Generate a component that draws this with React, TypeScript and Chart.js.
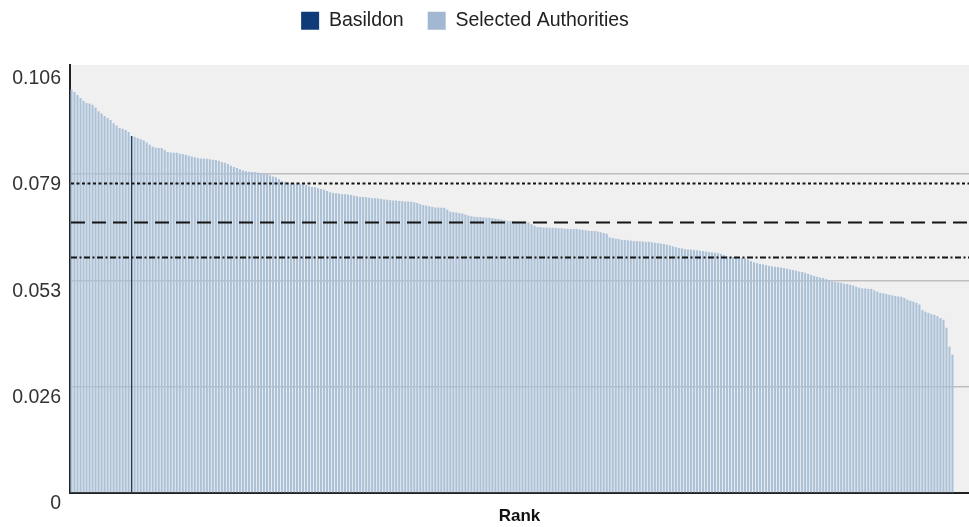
import { useEffect, useRef } from 'react';
import { Chart, registerables } from 'chart.js';

Chart.register(...registerables);

// ---------- data ----------
const legendLabels = ['Basildon', 'Selected Authorities'];

// values of all selected authorities, sorted by rank (1 = highest)
const selectedValues = [
  0.1005, 0.1000, 0.0992, 0.0985, 0.0978, 0.0972, 0.0971, 0.0968, 0.0961, 0.0952,
  0.0946, 0.0940, 0.0935, 0.0930, 0.0922, 0.0916, 0.0910, 0.0908, 0.0905, 0.0900,
  0.0890, 0.0888, 0.0885, 0.0882, 0.0879, 0.0874, 0.0868, 0.0863, 0.0861, 0.0860,
  0.0860, 0.0855, 0.0850, 0.0849, 0.0848, 0.0848, 0.0846, 0.0845, 0.0843, 0.0841,
  0.0839, 0.0837, 0.0835, 0.0834, 0.0834, 0.0833, 0.0832, 0.0831, 0.0830, 0.0828,
  0.0825, 0.0823, 0.0820, 0.0816, 0.0813, 0.0810, 0.0807, 0.0804, 0.0802, 0.0801,
  0.0800, 0.0800, 0.0799, 0.0798, 0.0798, 0.0795, 0.0792, 0.0789, 0.0787, 0.0782,
  0.0778, 0.0776, 0.0775, 0.0773, 0.0772, 0.0771, 0.0770, 0.0770, 0.0768, 0.0765,
  0.0763, 0.0762, 0.0760, 0.0758, 0.0756, 0.0753, 0.0750, 0.0748, 0.0747, 0.0746,
  0.0745, 0.0745, 0.0744, 0.0743, 0.0741, 0.0740, 0.0738, 0.0738, 0.0737, 0.0736,
  0.0735, 0.0735, 0.0734, 0.0733, 0.0732, 0.0731, 0.0730, 0.0729, 0.0729, 0.0728,
  0.0728, 0.0727, 0.0727, 0.0726, 0.0725, 0.0723, 0.0720, 0.0718, 0.0717, 0.0715,
  0.0713, 0.0712, 0.0712, 0.0711, 0.0711, 0.0706, 0.0701, 0.0700, 0.0699, 0.0698,
  0.0697, 0.0694, 0.0692, 0.0690, 0.0689, 0.0688, 0.0688, 0.0687, 0.0686, 0.0686,
  0.0685, 0.0684, 0.0683, 0.0681, 0.0680, 0.0679, 0.0678, 0.0678, 0.0677, 0.0677,
  0.0676, 0.0676, 0.0675, 0.0670, 0.0666, 0.0663, 0.0663, 0.0662, 0.0662, 0.0661,
  0.0661, 0.0661, 0.0660, 0.0660, 0.0659, 0.0659, 0.0658, 0.0658, 0.0658, 0.0657,
  0.0656, 0.0655, 0.0654, 0.0653, 0.0653, 0.0652, 0.0650, 0.0648, 0.0646, 0.0637,
  0.0636, 0.0634, 0.0633, 0.0631, 0.0631, 0.0630, 0.0629, 0.0628, 0.0628, 0.0627,
  0.0627, 0.0626, 0.0626, 0.0625, 0.0624, 0.0623, 0.0622, 0.0621, 0.0619, 0.0617,
  0.0615, 0.0613, 0.0611, 0.0610, 0.0608, 0.0607, 0.0607, 0.0606, 0.0605, 0.0604,
  0.0603, 0.0602, 0.0601, 0.0600, 0.0599, 0.0598, 0.0596, 0.0593, 0.0590, 0.0588,
  0.0588, 0.0587, 0.0587, 0.0586, 0.0585, 0.0582, 0.0578, 0.0575, 0.0573, 0.0571,
  0.0570, 0.0568, 0.0566, 0.0565, 0.0564, 0.0563, 0.0562, 0.0561, 0.0559, 0.0557,
  0.0556, 0.0554, 0.0552, 0.0551, 0.0549, 0.0546, 0.0543, 0.0541, 0.0539, 0.0537,
  0.0536, 0.0533, 0.0530, 0.0527, 0.0526, 0.0525, 0.0524, 0.0522, 0.0521, 0.0519,
  0.0517, 0.0514, 0.0512, 0.0510, 0.0510, 0.0509, 0.0509, 0.0505, 0.0502, 0.0499,
  0.0498, 0.0496, 0.0494, 0.0493, 0.0491, 0.0490, 0.0489, 0.0486, 0.0482, 0.0479,
  0.0477, 0.0474, 0.0470, 0.0456, 0.0452, 0.0449, 0.0446, 0.0444, 0.0441, 0.0436,
  0.0432, 0.0412, 0.0365, 0.0345,
];

const basildonRank = 21;
const basildonValue = 0.089;

const yTickValues = [0, 0.0265, 0.053, 0.0795, 0.106];
const yTickLabels = ['0', '0.026', '0.053', '0.079', '0.106'];

// upper quartile, median, lower quartile
const refLineValues = [0.0772, 0.0676, 0.0588];

const xAxisTitle = 'Rank';

// ---------- styles ----------
const FONT = "'Liberation Sans', Arial, sans-serif";
const refLineDashes = [
  [3, 2.5],
  [14, 7],
  [6, 2.5, 2, 2.5],
];
const legendSwatchColors = ['#0f3c78', '#a2b7d1'];
const barColor = '#abc1d8';
const basildonColor = '#1c3452';

export default function App() {
  const canvasRef = useRef<HTMLCanvasElement | null>(null);

  useEffect(() => {
    const canvas = canvasRef.current;
    if (!canvas) return;

    const plotBackground = {
      id: 'plotBackground',
      beforeDraw(chart: any) {
        const { ctx, chartArea } = chart;
        ctx.save();
        ctx.fillStyle = '#f0f0f0';
        ctx.fillRect(chartArea.left, chartArea.top, chartArea.right - chartArea.left, chartArea.bottom - chartArea.top);
        ctx.restore();
      },
    };

    const refLines = {
      id: 'refLines',
      afterDraw(chart: any) {
        const { ctx, chartArea, scales } = chart;
        ctx.save();
        refLineValues.forEach((v, i) => {
          const y = Math.round(scales.y.getPixelForValue(v)) + 0.5;
          ctx.beginPath();
          ctx.setLineDash(refLineDashes[i]);
          ctx.lineWidth = 2;
          ctx.strokeStyle = '#151515';
          ctx.moveTo(chartArea.left + 1, y);
          ctx.lineTo(chartArea.right, y);
          ctx.stroke();
        });
        ctx.restore();
      },
    };

    const legendTweak = {
      id: 'legendTweak',
      beforeLayout(chart: any) {
        const lg = chart.legend;
        if (lg && !lg.__patched) {
          const orig = lg.fit.bind(lg);
          lg.fit = () => {
            orig();
            lg.height = 65;
          };
          lg.__patched = true;
        }
      },
      afterLayout(chart: any) {
        const lg = chart.legend;
        if (lg) {
          lg.left -= 19.5;
          lg.right -= 19.5;
          lg.top -= 13;
          lg.bottom -= 13;
        }
      },
    };

    const chart = new Chart(canvas, {
      type: 'bar',
      data: {
        datasets: [
          {
            label: legendLabels[0],
            data: [{ x: basildonRank, y: basildonValue }],
            backgroundColor: basildonColor,
            borderWidth: 0,
            barPercentage: 0.4,
            categoryPercentage: 1,
            grouped: false,
          } as any,
          {
            label: legendLabels[1],
            data: selectedValues.map((v, i) => ({ x: i + 1, y: v })),
            backgroundColor: barColor,
            borderWidth: 0,
            barPercentage: 0.7,
            categoryPercentage: 1,
            grouped: false,
          } as any,
        ],
      },
      options: {
        animation: false,
        responsive: true,
        maintainAspectRatio: false,
        events: [],
        layout: { padding: 0 },
        plugins: {
          tooltip: { enabled: false },
          legend: {
            display: true,
            position: 'top',
            labels: {
              boxWidth: 18,
              boxHeight: 18,
              padding: 24,
              color: '#222',
              font: { family: FONT, size: 19.5 },
              generateLabels: (c: any) =>
                (Chart.defaults.plugins.legend.labels as any).generateLabels(c).map((l: any, i: number) => ({
                  ...l,
                  fillStyle: legendSwatchColors[i],
                  strokeStyle: legendSwatchColors[i],
                  lineWidth: 0,
                })),
            },
          },
        },
        scales: {
          x: {
            type: 'linear',
            min: 0.5,
            max: 299.5,
            offset: false,
            z: 1,
            ticks: { display: false },
            grid: { display: true, color: 'rgba(0,0,0,0)', drawTicks: false },
            border: { display: true, color: '#222', width: 2 },
            title: {
              display: true,
              text: xAxisTitle,
              color: '#111',
              font: { family: FONT, size: 17, weight: 'bold' },
              padding: { top: 0, bottom: 0 },
            },
            afterFit: (s: any) => {
              s.height = 34;
            },
          } as any,
          y: {
            type: 'linear',
            min: 0,
            max: 0.1067,
            z: 1,
            afterBuildTicks: (s: any) => {
              s.ticks = yTickValues.map((v) => ({ value: v }));
            },
            ticks: {
              autoSkip: false,
              padding: 9,
              labelOffset: 11,
              color: '#333',
              font: { family: FONT, size: 19.5 },
              callback: (_v: any, i: number) => yTickLabels[i],
            },
            grid: {
              drawTicks: false,
              lineWidth: 1.5,
              color: (ctx: any) =>
                ctx.tick && ctx.tick.value >= 0.106 ? 'rgba(0,0,0,0)' : 'rgba(140,140,140,0.5)',
            },
            border: { display: true, color: '#222', width: 2 },
            afterFit: (s: any) => {
              s.width = 70;
            },
          } as any,
        },
      },
      plugins: [plotBackground, refLines, legendTweak],
    });

    return () => chart.destroy();
  }, []);

  return (
    <div style={{ position: 'fixed', left: 0, top: 0, width: '969px', height: '527px', background: '#fff' }}>
      <canvas ref={canvasRef} />
    </div>
  );
}
